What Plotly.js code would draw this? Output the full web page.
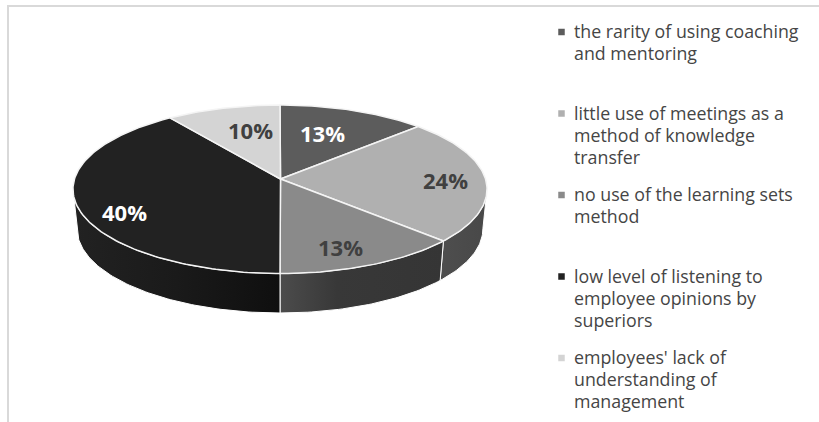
<!DOCTYPE html>
<html>
<head>
<meta charset="utf-8">
<script src="https://cdn.plot.ly/plotly-3.0.1.min.js"></script>
<style>html,body{margin:0;padding:0;background:#fff}#chart{width:819px;height:422px}</style>
</head>
<body>
<div id="chart"></div>
<script>
// Survey shares, clockwise from twelve o'clock
const shares = [13, 24, 13, 40, 10];
const categories = [
  ["the rarity of using coaching", "and mentoring"],
  ["little use of meetings as a", "method of knowledge", "transfer"],
  ["no use of the learning sets", "method"],
  ["low level of listening to", "employee opinions by", "superiors"],
  ["employees' lack of", "understanding of", "management"]
];
const sliceColors = ["#5c5c5c", "#b0b0b0", "#8a8a8a", "#222222", "#d4d4d4"];
const labelColors = ["#ffffff", "#404040", "#404040", "#ffffff", "#404040"];
const labelSpots = [[322, 133], [445, 180], [340, 247], [124, 212], [250, 130]];

// Side wall shading, left to right, per slice
const wallShades = {
  1: [[0, "#4e4e4e"], [1, "#484848"]],
  2: [[0, "#4c4c4c"], [0.35, "#383838"], [1, "#353535"]],
  3: [[0, "#222222"], [0.5, "#1a1a1a"], [1, "#0f0f0f"]]
};

// Tilted-disc projection, in page pixels
const cx = 280, cy = 179, A = 205.5, B = 83, k = 0.1217;
const wallDrop = 39.5, wallShrink = 0.98;
const RAD = Math.PI / 180;
const rim = t => {
  const w = 1 + k * Math.cos(t * RAD);
  return [cx + A * Math.sin(t * RAD) / w, cy - B * Math.cos(t * RAD) / w];
};
const lower = ([x, y]) => [cx + (x - cx) * wallShrink, y + wallDrop];
const arc = (a, b) => {
  const pts = [];
  const n = Math.max(2, Math.ceil(Math.abs(b - a)));
  for (let i = 0; i <= n; i++) pts.push(rim(a + (b - a) * i / n));
  return pts;
};

const total = shares.reduce((s, v) => s + v, 0);
let run = 0;
const spans = shares.map(v => {
  const from = run / total * 360;
  run += v;
  return [from, run / total * 360];
});

const traces = [];

// Side wall: only the front part of the rim can be seen
const visibleFrom = 97, visibleTo = 263;
spans.forEach(([a, b], i) => {
  const s = Math.max(a, visibleFrom), e = Math.min(b, visibleTo);
  if (e <= s) return;
  const top = arc(s, e);
  const loop = top.concat(top.slice().reverse().map(lower));
  loop.push(loop[0]);
  traces.push({
    type: "scatter", mode: "lines", hoverinfo: "skip", showlegend: false,
    x: loop.map(p => p[0]), y: loop.map(p => p[1]),
    fill: "toself",
    fillgradient: { type: "horizontal", colorscale: wallShades[i] },
    line: { color: "#ffffff", width: 1 }
  });
});

// Top face
spans.forEach(([a, b], i) => {
  const loop = [[cx + 0.5, cy]].concat(arc(a, b), [[cx + 0.5, cy]]);
  traces.push({
    type: "scatter", mode: "lines", hoverinfo: "skip", showlegend: false,
    x: loop.map(p => p[0]), y: loop.map(p => p[1]),
    fill: "toself", fillcolor: sliceColors[i],
    line: { color: "#f4f4f4", width: 1.5 }
  });
});

// Key swatches and their texts
const keyX = 561.5, keyTop = 32, keyPitch = 81.5, keyLeading = 22;
traces.push({
  type: "scatter", mode: "markers", hoverinfo: "skip", showlegend: false,
  x: shares.map(() => keyX),
  y: shares.map((_, i) => keyTop + i * keyPitch),
  marker: { symbol: "square", size: 6.5, color: sliceColors, line: { width: 0 } }
});

const annotations = shares.map((v, i) => ({
  x: labelSpots[i][0], y: labelSpots[i][1], xref: "x", yref: "y",
  text: v + "%", showarrow: false, xanchor: "center", yanchor: "middle",
  font: { family: "Open Sans", size: 22, weight: 700, color: labelColors[i] }
}));
categories.forEach((lines, i) => lines.forEach((line, j) => annotations.push({
  x: 573, y: keyTop - 1 + i * keyPitch + j * keyLeading, xref: "x", yref: "y",
  text: line, showarrow: false, xanchor: "left", yanchor: "middle", align: "left",
  borderpad: 0,
  font: { family: "Open Sans", size: 17.8, color: "#454545" }
})));

const hidden = { visible: false, fixedrange: true };
const layout = {
  width: 819, height: 422,
  margin: { l: 0, r: 0, t: 0, b: 0 },
  paper_bgcolor: "#ffffff", plot_bgcolor: "#ffffff",
  showlegend: false,
  xaxis: Object.assign({ range: [0, 819] }, hidden),
  yaxis: Object.assign({ range: [422, 0] }, hidden),
  annotations,
  shapes: [
    { type: "line", xref: "x", yref: "y", x0: 8, x1: 819, y0: 6, y1: 6, line: { color: "#d9d9d9", width: 2 } },
    { type: "line", xref: "x", yref: "y", x0: 8, x1: 8, y0: 5, y1: 422, line: { color: "#d9d9d9", width: 2 } }
  ]
};

Plotly.newPlot("chart", traces, layout, { displayModeBar: false, staticPlot: true });
</script>
</body>
</html>
